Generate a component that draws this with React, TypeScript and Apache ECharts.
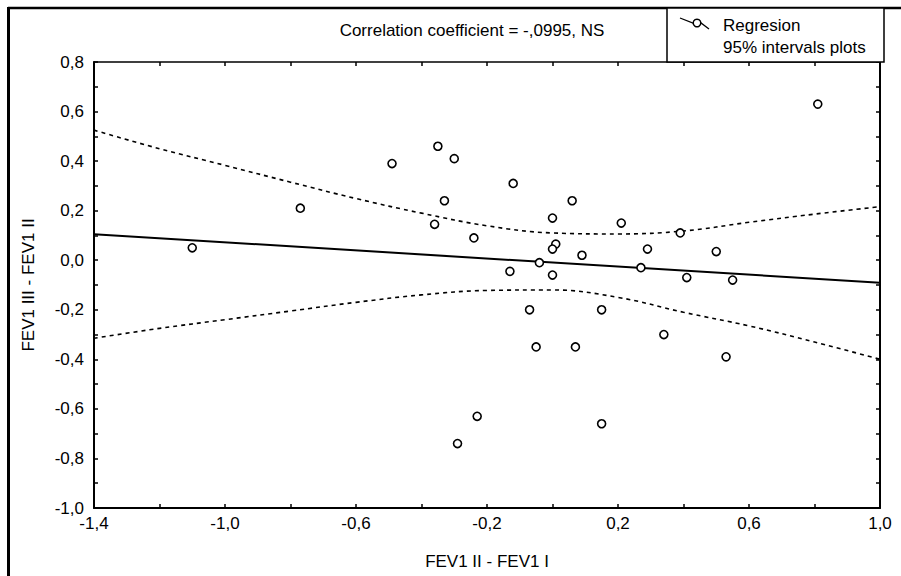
import React, { useEffect, useRef } from "react";
import * as echarts from "echarts";

// Scatter points (FEV1 II - FEV1 I, FEV1 III - FEV1 II)
const pointX = [-1.10, -0.77, -0.49, -0.35, -0.30, -0.12, -0.33, 0.06, -0.36, 0.00, 0.21, -0.24, 0.01, 0.00, 0.09, 0.29, -0.04, -0.13, 0.00, 0.27, 0.81, 0.39, 0.50, 0.41, 0.55, 0.15, 0.07, 0.34, 0.53, 0.15, -0.07, -0.05, -0.23, -0.29];
const pointY = [0.05, 0.21, 0.39, 0.46, 0.41, 0.31, 0.24, 0.24, 0.145, 0.17, 0.15, 0.09, 0.065, 0.045, 0.02, 0.045, -0.01, -0.045, -0.06, -0.03, 0.63, 0.11, 0.035, -0.07, -0.08, -0.20, -0.35, -0.30, -0.39, -0.66, -0.20, -0.35, -0.63, -0.74];

// Regression line end points
const regX = [-1.4, 1.0];
const regY = [0.105, -0.091];

// 95% interval curves
const bandX = [-1.4, -1.2, -1.0, -0.8, -0.6, -0.4, -0.2, 0.0, 0.2, 0.4, 0.6, 0.8, 1.0];
const upperY = [0.525, 0.45, 0.383, 0.315, 0.249, 0.19, 0.139, 0.11, 0.106, 0.118, 0.153, 0.186, 0.216];
const lowerY = [-0.315, -0.275, -0.24, -0.205, -0.17, -0.14, -0.122, -0.12, -0.15, -0.21, -0.265, -0.33, -0.40];

// Tick labels
const xTickLabels = ["-1,4", "-1,0", "-0,6", "-0,2", "0,2", "0,6", "1,0"];
const yTickLabels = ["-1,0", "-0,8", "-0,6", "-0,4", "-0,2", "0,0", "0,2", "0,4", "0,6", "0,8"];

const titleText = "Correlation coefficient = -,0995, NS";
const xName = "FEV1 II - FEV1 I";
const yName = "FEV1 III - FEV1 II";
const legendLines = ["Regresion", "95% intervals plots"];

const FONT = "'Liberation Sans', Arial, sans-serif";
const FS = 17;

const fmt = (v: number) => v.toFixed(1).replace(".", ",");

export default function App() {
  const ref = useRef<HTMLDivElement>(null);
  useEffect(() => {
    if (!ref.current) return;
    const chart = echarts.init(ref.current, null, { renderer: "svg" });
    const xLabel = (v: number) => {
      const s = fmt(v);
      return xTickLabels.includes(s) ? s : "";
    };
    const yLabel = (v: number) => {
      const s = fmt(v);
      return yTickLabels.includes(s) ? s : "";
    };
    const baseX = {
      type: "value",
      min: -1.4,
      max: 1.0,
      interval: 0.2,
      splitLine: { show: false },
      axisLine: { show: true, onZero: false, lineStyle: { color: "#000", width: 2 } },
      axisTick: { show: true, inside: true, length: 4, lineStyle: { color: "#000", width: 1.5 } },
    };
    const baseY = {
      type: "value",
      min: -1.0,
      max: 0.8,
      interval: 0.1,
      splitLine: { show: false },
      axisLine: { show: true, onZero: false, lineStyle: { color: "#000", width: 2 } },
      axisTick: { show: true, inside: true, length: 4, lineStyle: { color: "#000", width: 1.5 } },
    };
    chart.setOption({
      animation: false,
      backgroundColor: "#fff",
      textStyle: { fontFamily: FONT },
      grid: { left: 94, right: 21, top: 62, bottom: 68, containLabel: false },
      xAxis: [
        {
          ...baseX,
          position: "bottom",
          name: xName,
          nameLocation: "middle",
          nameGap: 45,
          nameTextStyle: { fontSize: FS, color: "#000", fontFamily: FONT },
          axisLabel: { formatter: xLabel, fontSize: FS, color: "#000", margin: 7, fontFamily: FONT },
        },
        {
          ...baseX,
          position: "top",
          axisLine: { show: true, onZero: false, lineStyle: { color: "#000", width: 1.5 } },
          axisLabel: { show: false },
        },
      ],
      yAxis: [
        {
          ...baseY,
          position: "left",
          name: yName,
          nameLocation: "middle",
          nameGap: 57,
          nameTextStyle: { fontSize: FS, color: "#000", fontFamily: FONT },
          axisLabel: { formatter: yLabel, fontSize: FS, color: "#000", margin: 10, fontFamily: FONT },
        },
        {
          ...baseY,
          position: "right",
          axisLabel: { show: false },
        },
      ],
      series: [
        {
          type: "line",
          data: regX.map((x, i) => [x, regY[i]]),
          showSymbol: false,
          lineStyle: { color: "#000", width: 2 },
          z: 3,
        },
        {
          type: "line",
          smooth: 0.4,
          data: bandX.map((x, i) => [x, upperY[i]]),
          showSymbol: false,
          lineStyle: { color: "#000", width: 1.6, type: [4, 4] },
          z: 3,
        },
        {
          type: "line",
          smooth: 0.4,
          data: bandX.map((x, i) => [x, lowerY[i]]),
          showSymbol: false,
          lineStyle: { color: "#000", width: 1.6, type: [4, 4] },
          z: 3,
        },
        {
          type: "scatter",
          data: pointX.map((x, i) => [x, pointY[i]]),
          symbol: "circle",
          symbolSize: 8,
          itemStyle: { color: "#fff", borderColor: "#000", borderWidth: 1.6, opacity: 1 },
          z: 5,
        },
      ],
      graphic: [
        // outer frame
        { type: "line", shape: { x1: 8, y1: 8, x2: 901, y2: 8 }, style: { stroke: "#000", lineWidth: 2.5 } },
        { type: "line", shape: { x1: 8.5, y1: 7, x2: 8.5, y2: 576 }, style: { stroke: "#000", lineWidth: 3 } },
        // legend box
        { type: "rect", shape: { x: 667, y: 8, width: 217, height: 54 }, style: { fill: "#fff", stroke: "#000", lineWidth: 1.5 }, z: 10 },
        { type: "polyline", shape: { points: [[680, 18], [693, 23], [701, 23], [709, 29]] }, style: { stroke: "#000", fill: null, lineWidth: 1.3 }, z: 11 },
        { type: "circle", shape: { cx: 697, cy: 23, r: 3.8 }, style: { fill: "#fff", stroke: "#000", lineWidth: 1.5 }, z: 12 },
        { type: "text", x: 723, y: 25, style: { text: legendLines[0], font: `${FS}px ${FONT}`, fill: "#000", verticalAlign: "middle", align: "left" }, z: 11 },
        { type: "text", x: 723, y: 47, style: { text: legendLines[1], font: `${FS}px ${FONT}`, fill: "#000", verticalAlign: "middle", align: "left" }, z: 11 },
        // title
        { type: "text", x: 472, y: 30, style: { text: titleText, font: `${FS}px ${FONT}`, fill: "#000", verticalAlign: "middle", align: "center" }, z: 11 },
      ],
    });
    return () => chart.dispose();
  }, []);
  return (
    <div
      ref={ref}
      style={{ position: "fixed", left: 0, top: 0, width: 901, height: 576, background: "#fff" }}
    />
  );
}
